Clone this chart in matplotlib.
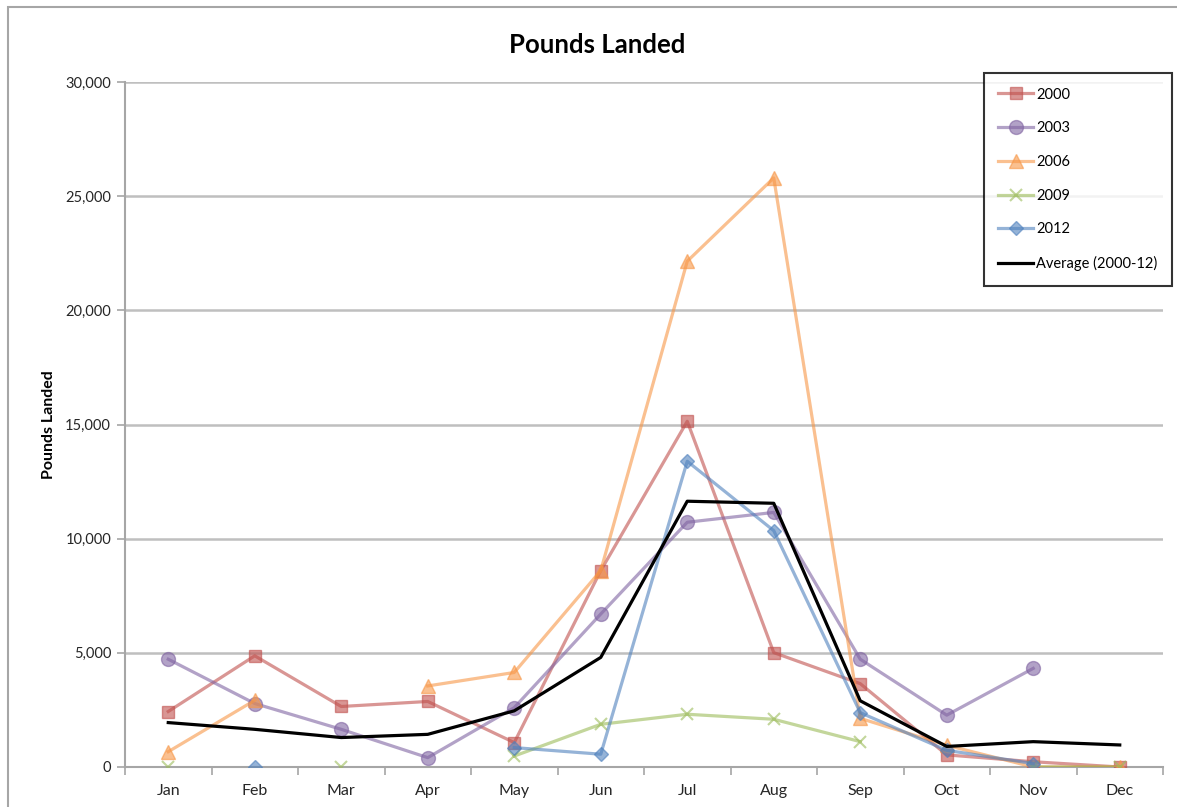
import numpy as np
import matplotlib
matplotlib.use("Agg")
import matplotlib.pyplot as plt
from matplotlib.patches import Rectangle
from matplotlib.ticker import FuncFormatter, FixedLocator

plt.rcParams['font.family'] = ['Lato', 'DejaVu Sans']

months = ['Jan', 'Feb', 'Mar', 'Apr', 'May', 'Jun', 'Jul', 'Aug', 'Sep', 'Oct', 'Nov', 'Dec']
nan = np.nan

y2000 = [2430, 4870, 2650, 2870, 1070, 8600, 15140, 5010, 3650, 530, 230, 0]
y2003 = [4720, 2780, 1650, 410, 2600, 6700, 10720, 11150, 4720, 2270, 4320, nan]
y2006 = [670, 2920, nan, 3550, 4140, 8600, 22150, 25800, 2130, 950, 0, 0]
y2009 = [0, nan, 0, nan, 480, 1870, 2310, 2090, 1110, nan, 0, 0]
y2012 = [nan, 0, nan, nan, 850, 560, 13390, 10350, 2380, 730, 150, nan]
average = [1945, 1650, 1290, 1430, 2460, 4800, 11640, 11550, 2900, 900, 1110, 965]

series = [
    ('2000', y2000, '#C0504D', 's', 9),
    ('2003', y2003, '#8064A2', 'o', 10),
    ('2006', y2006, '#F79646', '^', 10),
    ('2009', y2009, '#9BBB59', 'x', 9),
    ('2012', y2012, '#4F81BD', 'D', 7),
]

fig = plt.figure(figsize=(11.77, 8.07), dpi=100)
ax = fig.add_axes([125 / 1177, 1 - 767 / 807, (1163 - 125) / 1177, (767 - 82) / 807])

# chart area border
fig.patches.append(Rectangle((8 / 1177, -0.1), 1.2, (1 - 7 / 807) + 0.1, transform=fig.transFigure,
                             fill=False, edgecolor='#A6A6A6', lw=1.5))

x = np.arange(len(months))
for name, vals, col, mk, ms in series:
    ax.plot(x, vals, color=col, alpha=0.6, lw=2.3, marker=mk, markersize=ms,
            markeredgewidth=1.5 if mk == 'x' else 1, label=name, zorder=3)
ax.plot(x, average, color='black', lw=2.3, label='Average (2000-12)', zorder=4)

ax.set_xlim(-0.5, 11.5)
ax.set_ylim(0, 30000)
ax.set_yticks(np.arange(0, 30001, 5000))
ax.yaxis.set_major_formatter(FuncFormatter(lambda v, p: f'{int(v):,}'))
ax.yaxis.grid(True, color='#BFBFBF', lw=1.8)
ax.set_axisbelow(True)

ax.xaxis.set_major_locator(FixedLocator(np.arange(-0.5, 12, 1)))
ax.xaxis.set_minor_locator(FixedLocator(x))
ax.set_xticklabels([])
ax.set_xticklabels(months, minor=True)
ax.tick_params(axis='x', which='major', length=6, color='#A6A6A6', width=1.2)
ax.tick_params(axis='x', which='minor', length=0, pad=12, labelsize=11.5, labelcolor='#262626')
ax.tick_params(axis='y', length=6, color='#A6A6A6', width=1.2, labelsize=10.5, pad=4,
               labelcolor='#262626')

for s in ['top', 'right']:
    ax.spines[s].set_visible(False)
for s in ['left', 'bottom']:
    ax.spines[s].set_color('#A6A6A6')
    ax.spines[s].set_linewidth(1.5)

ax.set_ylabel('Pounds Landed', fontsize=11.5, fontweight='bold', labelpad=7)
fig.text(597 / 1177, 1 - 45 / 807, 'Pounds Landed', ha='center', va='center',
         fontsize=18.5, fontweight='bold')

leg = fig.legend(loc='upper right', bbox_to_anchor=(1172 / 1177, 1 - 73 / 807),
                 fontsize=10.5, frameon=True, fancybox=False, labelspacing=1.35,
                 handlelength=2.4, handletextpad=0.2, borderpad=1.0, borderaxespad=0)
leg.get_frame().set_edgecolor('black')
leg.get_frame().set_linewidth(1.5)

fig.savefig('out.png', dpi=100)
